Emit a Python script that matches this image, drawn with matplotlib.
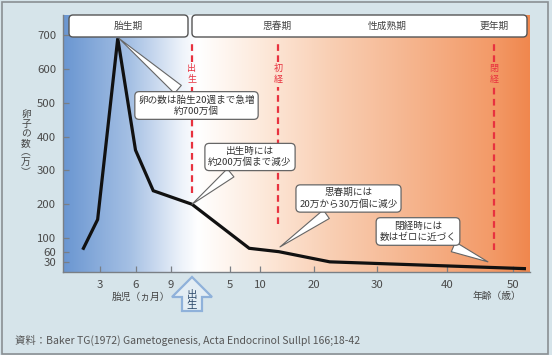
import numpy as np
import matplotlib
matplotlib.use("Agg")
import matplotlib.pyplot as plt
from matplotlib.patches import FancyBboxPatch, Polygon, Rectangle
from matplotlib.transforms import IdentityTransform

plt.rcParams['font.family'] = ['Noto Sans CJK JP', 'DejaVu Sans']

# ---------------- data ----------------
fetal_month = [1.6, 2.8, 4.5, 6.0, 7.5]          # months of gestation
fetal_count = [70, 155, 690, 360, 240]           # x10,000 oocytes
age_years = [0, 8.2, 13.5, 22.5, 51.8]           # years after birth
age_count = [200, 70, 60, 30, 10]

birth_month = 10                                 # schematic birth position
menarche_age = 13.3
menopause_age = 47.1

fetal_ticks = [3, 6, 9]
age_ticks = [5, 10, 20, 30, 40, 50]
y_ticks = [30, 60, 100, 200, 300, 400, 500, 600, 700]

phase_labels = ['胎生期', '思春期', '性成熟期', '更年期']
event_labels = ['出生', '初経', '閉経']
notes = ['卵の数は胎生20週まで急増\n約700万個',
         '出生時には\n約200万個まで減少',
         '思春期には\n20万から30万個に減少',
         '閉経時には\n数はゼロに近づく']

# ---------------- helpers ----------------
W, H = 552, 355


def to_u(age):
    """age in years -> months since conception (schematic)"""
    return birth_month + 12 * np.asarray(age, dtype=float)


# piecewise axis mapping (schematic, non-uniform time axis)
anch_u = np.array([0, 3, 6, 9, birth_month] + list(to_u([5, 10, 20, 30, 40, 50, 53])))
anch_p = np.array([64.5, 100, 135.5, 171, 192, 230, 260, 314, 377, 447, 513, 532])


def _pw(x, xs, ys):
    x = np.asarray(x, dtype=float)
    y = np.interp(x, xs, ys)
    lo = x < xs[0]
    hi = x > xs[-1]
    s0 = (ys[1] - ys[0]) / (xs[1] - xs[0])
    s1 = (ys[-1] - ys[-2]) / (xs[-1] - xs[-2])
    y = np.where(lo, ys[0] + (x - xs[0]) * s0, y)
    y = np.where(hi, ys[-1] + (x - xs[-1]) * s1, y)
    return y


def fwd(u):
    return _pw(u, anch_u, anch_p)


def inv(p):
    return _pw(p, anch_p, anch_u)


def fy(y):  # reference pixel (from top) -> display y
    return H - y


# ---------------- figure ----------------
fig = plt.figure(figsize=(W / 100, H / 100), dpi=100)
fig.patch.set_facecolor('#d6e4ea')
fig.add_artist(Rectangle((2, 1), 546, 352, transform=IdentityTransform(),
                         fill=False, ec='#8a8f93', lw=1.2))

ax_left, ax_right, ax_top, ax_bot = 63, 530, 15, 272
pos = [ax_left / W, 1 - ax_bot / H, (ax_right - ax_left) / W, (ax_bot - ax_top) / H]

# gradient background
bg = fig.add_axes(pos, zorder=0)
stops_p = np.array([63, 130, 182, 198, 260, 330, 420, 490, 530])
stops_c = np.array([(106, 150, 209), (165, 192, 228), (238, 243, 250), (255, 255, 255),
                    (253, 234, 220), (249, 207, 180), (245, 178, 138), (243, 155, 105),
                    (240, 135, 78)]) / 255.0
xs = np.linspace(63, 530, 600)
grad = np.stack([np.interp(xs, stops_p, stops_c[:, i]) for i in range(3)], axis=-1)[None, :, :]
bg.imshow(grad, aspect='auto', extent=[0, 1, 0, 1], interpolation='bilinear')
bg.axis('off')

ax = fig.add_axes(pos, zorder=1)
ax.patch.set_alpha(0)
ax.set_xscale('function', functions=(fwd, inv))
ax.set_xlim(inv(ax_left), inv(ax_right))
ax.set_ylim(0, 759)

# curve
u = np.concatenate([np.array(fetal_month, float), to_u(age_years)])
cnt = np.concatenate([fetal_count, age_count])
ax.plot(u, cnt, color='#111111', lw=2.3, solid_joinstyle='miter', zorder=5)

# axes styling
for s in ['top', 'right']:
    ax.spines[s].set_visible(False)
for s in ['left', 'bottom']:
    ax.spines[s].set_color('#7a7f85')
    ax.spines[s].set_linewidth(1.0)
xt = list(fetal_ticks) + list(to_u(age_ticks))
ax.set_xticks(xt)
ax.set_xticklabels([str(t) for t in fetal_ticks] + [str(t) for t in age_ticks])
ax.set_yticks(y_ticks)
ax.set_yticklabels([str(t) for t in y_ticks])
ax.tick_params(direction='in', length=4, color='#7a7f85', labelsize=8.2,
               labelcolor='#4a4a4a', width=0.9)
ax.tick_params(axis='x', pad=6)
ax.tick_params(axis='y', pad=5)

# phase header boxes (pixel coords)
def rbox(x0, y0, x1, y1):
    p = FancyBboxPatch((x0, fy(y1)), x1 - x0, y1 - y0,
                       boxstyle='round,pad=0,rounding_size=4',
                       transform=IdentityTransform(), fc='white', ec='#555555', lw=1.0,
                       zorder=6)
    fig.add_artist(p)

rbox(69, 15, 188, 37)
rbox(192, 15, 527, 37)
for lab, xp in zip(phase_labels, [128, 277, 387, 494]):
    fig.text(xp / W, 1 - 26 / H, lab, ha='center', va='center', fontsize=7,
             color='#444444', zorder=7)

# red dashed event lines
red = '#e8323f'
ev_u = [birth_month, to_u(menarche_age), to_u(menopause_age)]
ev_bottom = [193, 224, 250]
ev_textc = [74, 74, 74]

def yf(py):
    return (ax_bot - py) / (ax_bot - ax_top)

for eu, lab, yb, tc in zip(ev_u, event_labels, ev_bottom, ev_textc):
    ax.axvline(eu, ymin=yf(tc - 12), ymax=yf(41), color=red, lw=1.6,
               ls=(0, (3, 2)), zorder=3)
    ax.axvline(eu, ymin=yf(yb), ymax=yf(tc + 13), color=red, lw=1.6,
               ls=(0, (3, 2)), zorder=3)
    ax.text(eu, 1 - (tc - ax_top) / (ax_bot - ax_top), '\n'.join(lab),
            transform=ax.get_xaxis_transform(), ha='center', va='center',
            fontsize=6.5, color=red, linespacing=1.2, zorder=4)

# callouts
note_xy = [(4.6, 690), (birth_month, 200), (float(to_u(13.7)), 74), (float(to_u(46.2)), 30)]
note_box = [(196.5, 105.5), (250, 157), (348.5, 198.5), (418, 231.5)]
for txt, xy, (cx, cy) in zip(notes, note_xy, note_box):
    ax.annotate(txt, xy=xy, xycoords='data', xytext=(cx, fy(cy)),
                textcoords='figure pixels', ha='center', va='center',
                fontsize=6.9, color='#333333', linespacing=1.25, zorder=8,
                bbox=dict(boxstyle='round,pad=0.35,rounding_size=0.45',
                          fc='white', ec='#666666', lw=0.9),
                arrowprops=dict(arrowstyle='wedge,tail_width=1.1,shrink_factor=0.5',
                                fc='white', ec='#666666', lw=0.8, shrinkB=0))

# axis titles
fig.text(141 / W, 1 - 297 / H, '胎児（ヵ月）', ha='center', va='center',
         fontsize=7, color='#444444')
fig.text(497 / W, 1 - 296 / H, '年齢（歳）', ha='center', va='center',
         fontsize=7, color='#444444')
fig.text(26 / W, 1 - 143 / H, '卵\n子\nの\n数\n︵\n万\n︶', ha='center', va='center',
         fontsize=7, color='#444444', linespacing=0.95)

# birth arrow
arrow_pts = [(192, 277), (212, 297), (202, 297), (202, 311), (182, 311), (182, 297), (172, 297)]
fig.add_artist(Polygon([(x, fy(y)) for x, y in arrow_pts], closed=True,
                       transform=IdentityTransform(), fc='#e3edf4', ec='#8fb1da', lw=1.6,
                       joinstyle='miter'))
fig.text(192 / W, 1 - 300 / H, '出\n生', ha='center', va='center', fontsize=7.5,
         color='#2e4a6b', linespacing=1.05)

# source
fig.text(15 / W, 1 - 340 / H,
         '資料：Baker TG(1972) Gametogenesis, Acta Endocrinol Sullpl 166;18-42',
         ha='left', va='center', fontsize=7.5, color='#555555')

fig.savefig('out.png', dpi=100, facecolor=fig.get_facecolor())
